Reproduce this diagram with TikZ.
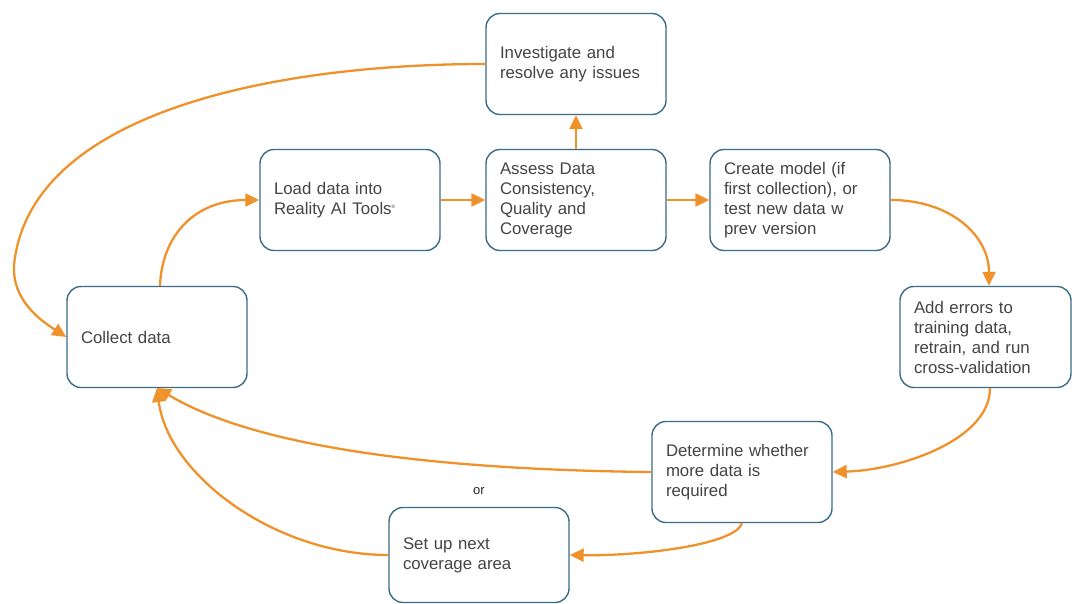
\documentclass[tikz,border=0pt]{standalone}
\usepackage{fontspec}
\setmainfont{Liberation Sans}
\usetikzlibrary{arrows.meta}
\definecolor{boxline}{HTML}{3B6C88}
\definecolor{arrcol}{HTML}{F0922B}
\definecolor{txt}{HTML}{444444}
\begin{document}
\begin{tikzpicture}[x=1pt,y=-1pt,
  box/.style={draw=boxline,line width=1.4pt,rounded corners=14pt,fill=white,
    minimum width=180pt,minimum height=101pt,text width=152pt,inner xsep=14pt,
    align=left,text=txt,font=\fontsize{16.8}{20}\selectfont},
  arr/.style={draw=arrcol,line width=2.3pt,-{Triangle[length=14pt,width=13pt]}},
  orlabel/.style={font=\fontsize{13}{14}\selectfont,text=black!85}]
\useasboundingbox (0,0) rectangle (1072,604);
\node[box] (inv) at (576,64) {Investigate and\\resolve any issues};
\node[box] (load) at (350,200) {Load data into\\Reality AI Tools\textsuperscript{\tiny\textregistered}};
\node[box] (assess) at (576,200) {Assess Data\\Consistency,\\Quality and\\Coverage};
\node[box] (create) at (800,200) {Create model (if\\first collection), or\\test new data w\\prev version};
\node[box,minimum width=171pt,text width=143pt] (add) at (985.5,337) {Add errors to\\training data,\\retrain, and run\\cross-validation};
\node[box] (det) at (742,472) {Determine whether\\more data is\\required};
\node[box,minimum height=95pt] (setup) at (479,555) {Set up next\\coverage area};
\node[box] (col) at (157,337) {Collect data};
\node[orlabel] (or) at (479,491) {or};
\coordinate (c1) at (14,265);
\coordinate (colb) at (157,388);
\draw[arr] (col.north -| 160,0) .. controls (162,235) and (195,200) .. (load.west);
\draw[arr] (load.east) -- (assess.west);
\draw[arr] (assess.north) -- (inv.south);
\draw[arr] (assess.east) -- (create.west);
\draw[arr] (create.east) .. controls (950,200) and (989,235) .. (add.north -| 989,0);
\draw[arr] (add.south -| 990,0) .. controls (990,440) and (900,470) .. (det.east);
\draw[arr] (det.south) .. controls (735,545) and (640,556) .. (setup.east);
\draw[arr] (det.west) .. controls (450,470) and (260,450) .. (colb);
\draw[arr] (setup.west) .. controls (275,555) and (168,475) .. (colb);
\draw[draw=arrcol,line width=2.3pt] (inv.west) .. controls (280,64) and (30,110) .. (c1);
\draw[arr] (c1) .. controls (12,300) and (40,320) .. (col.west);
\end{tikzpicture}
\end{document}
